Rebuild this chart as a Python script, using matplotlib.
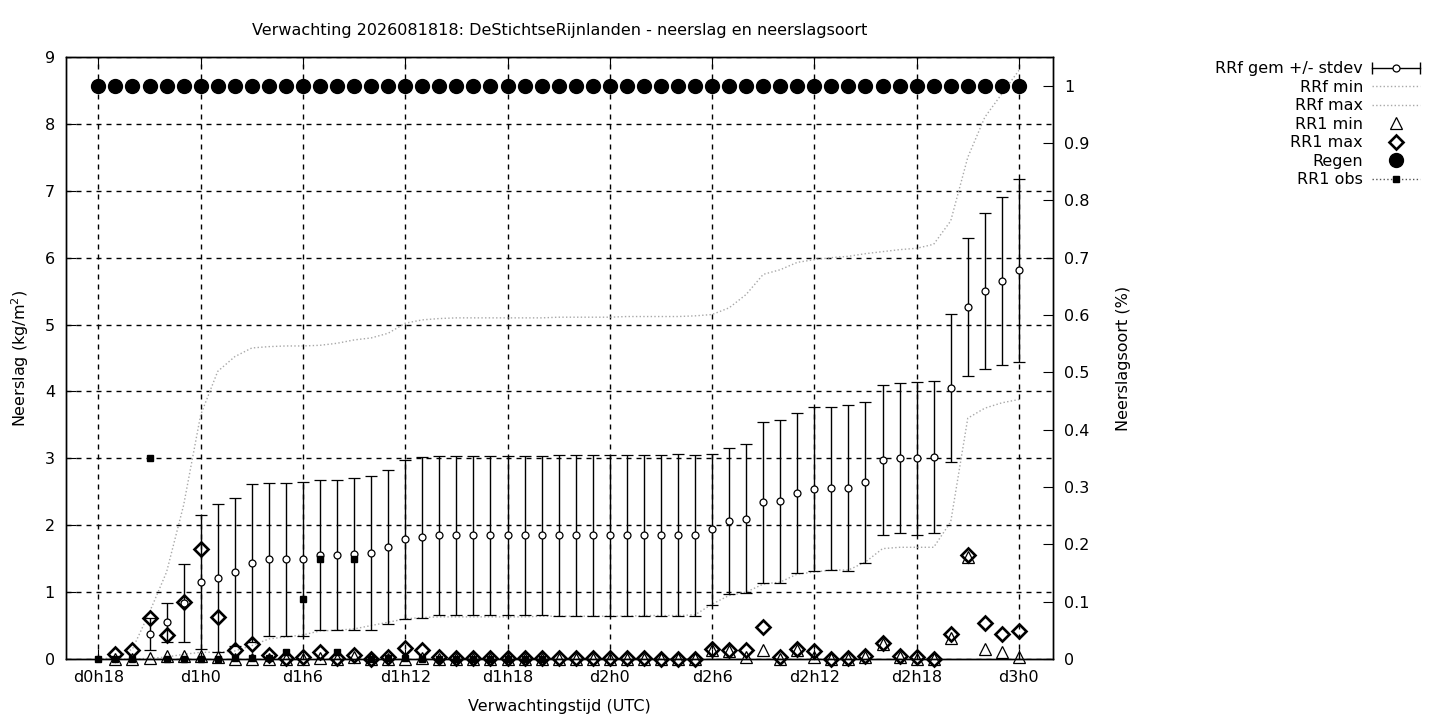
import numpy as np
import matplotlib
matplotlib.use("Agg")
import matplotlib.pyplot as plt
from matplotlib.lines import Line2D
from matplotlib.legend_handler import HandlerBase

nan = np.nan

# forecast hours, d0h18 .. d3h0
hours = np.arange(18, 73)

# RRf gem (mean) and stdev, first three hours have no mean
rrf_gem = [nan, nan, nan, 0.37, 0.55, 0.84, 1.15, 1.21, 1.30, 1.43, 1.49, 1.49, 1.49,
           1.55, 1.55, 1.57, 1.58, 1.67, 1.79, 1.82, 1.85, 1.85, 1.85, 1.85, 1.85,
           1.85, 1.85, 1.85, 1.85, 1.85, 1.85, 1.85, 1.85, 1.85, 1.85, 1.85, 1.94,
           2.06, 2.10, 2.34, 2.36, 2.48, 2.54, 2.55, 2.55, 2.64, 2.97, 3.00, 3.00,
           3.02, 4.05, 5.26, 5.50, 5.65, 5.81]
rrf_std = [nan, nan, nan, 0.24, 0.29, 0.58, 1.00, 1.10, 1.11, 1.18, 1.14, 1.14, 1.15,
           1.12, 1.12, 1.13, 1.15, 1.15, 1.19, 1.20, 1.19, 1.19, 1.19, 1.19, 1.19,
           1.19, 1.19, 1.20, 1.20, 1.20, 1.20, 1.20, 1.20, 1.20, 1.21, 1.20, 1.13,
           1.09, 1.12, 1.21, 1.22, 1.20, 1.23, 1.22, 1.24, 1.20, 1.12, 1.12, 1.14,
           1.13, 1.11, 1.03, 1.17, 1.25, 1.37]

rrf_min = [0, 0, 0, 0.01, 0.03, 0.07, 0.10, 0.10, 0.12, 0.20, 0.30, 0.33, 0.36,
           0.42, 0.43, 0.45, 0.50, 0.55, 0.60, 0.62, 0.63, 0.63, 0.63, 0.63, 0.63,
           0.63, 0.64, 0.64, 0.64, 0.64, 0.64, 0.64, 0.65, 0.65, 0.65, 0.66, 0.82,
           0.95, 1.00, 1.12, 1.15, 1.27, 1.30, 1.33, 1.33, 1.45, 1.65, 1.67, 1.67,
           1.67, 2.05, 3.60, 3.75, 3.83, 3.88]
rrf_max = [0, 0.02, 0.15, 0.70, 1.30, 2.30, 3.65, 4.30, 4.52, 4.65, 4.67, 4.68, 4.68,
           4.69, 4.72, 4.77, 4.80, 4.87, 5.02, 5.07, 5.09, 5.10, 5.10, 5.10, 5.10,
           5.10, 5.10, 5.11, 5.11, 5.11, 5.11, 5.12, 5.12, 5.12, 5.12, 5.13, 5.15,
           5.25, 5.45, 5.75, 5.82, 5.93, 5.97, 6.00, 6.02, 6.06, 6.09, 6.12, 6.14,
           6.20, 6.55, 7.50, 8.10, 8.45, 8.80]

rr1_min = [nan, 0, 0, 0.01, 0.05, 0.05, 0.04, 0.03, 0, 0, 0, 0, 0,
           0.02, 0, 0.03, 0, 0, 0, 0.02, 0, 0, 0, 0, 0,
           0, 0, 0, 0, 0, 0, 0, 0, 0, 0, 0, 0.13,
           0.12, 0.03, 0.13, 0, 0.14, 0.03, 0, 0, 0.03, 0.22, 0.03, 0,
           0, 0.32, 1.53, 0.15, 0.10, 0.03]
rr1_max = [nan, 0.07, 0.13, 0.61, 0.36, 0.85, 1.65, 0.63, 0.13, 0.22, 0.06, 0.01, 0.03,
           0.11, 0.01, 0.06, 0.0, 0.03, 0.16, 0.14, 0.03, 0.02, 0.02, 0.02, 0.02,
           0.02, 0.02, 0.01, 0.01, 0.01, 0.01, 0.01, 0.01, 0.0, 0.0, 0.0, 0.15,
           0.13, 0.13, 0.48, 0.03, 0.15, 0.12, 0.0, 0.02, 0.05, 0.24, 0.05, 0.03,
           0.0, 0.37, 1.55, 0.54, 0.38, 0.42]

# observations only up to d1h20
rr1_obs = [0, 0, 0, 3.0, 0, 0, 0, 0, 0.02, 0.02, 0.02, 0.10, 0.90,
           1.50, 0.10, 1.50, 0, 0.02, 0.02, 0, 0, 0, 0, 0, 0,
           0, 0] + [nan] * 28

# neerslagsoort: regen (fraction)
regen = [1.0] * 55

xtick_hours = np.arange(18, 73, 6)
xtick_labels = ["d%dh%d" % (h // 24, h % 24) for h in xtick_hours]

plt.rcParams["font.family"] = "DejaVu Sans"
plt.rcParams["font.size"] = 11.5

fig = plt.figure(figsize=(14.4, 7.2), dpi=100)
ax = fig.add_axes([66 / 1440, 61 / 720, 987 / 1440, 602 / 720])
ax2 = ax.twinx()

grey = "#a8a8a8"

ax.errorbar(hours, rrf_gem, yerr=rrf_std, fmt="o", ms=5, mfc="white", mec="k", mew=0.9,
            ecolor="k", elinewidth=1, capsize=4.3, capthick=1, zorder=3)
ax.plot(hours, rrf_min, ls=":", color=grey, lw=1, zorder=2)
ax.plot(hours, rrf_max, ls=":", color=grey, lw=1, zorder=2)
ax.plot(hours, rr1_min, "^", ms=9, mfc="none", mec="k", mew=0.9, clip_on=False, zorder=4)
ax.plot(hours, rr1_max, "D", ms=7, mfc="none", mec="k", mew=1.9, clip_on=False, zorder=5)
ax.plot(hours, rr1_obs, "s", ms=5, color="k", clip_on=False, zorder=6)
ax2.plot(hours, regen, "o", ms=10, color="k", clip_on=False)

ax.set_xlim(16.1, 74.0)
ax.set_ylim(0, 9)
ax.set_xticks(xtick_hours)
ax.set_xticklabels(xtick_labels)
ax.set_yticks(range(0, 10))
ax.grid(True, color="k", ls=(0, (3.6, 3.6)), lw=1)
ax.set_axisbelow(True)
ax.tick_params(direction="in", length=7, top=True, right=False, pad=8)

ax2.set_ylim(0, 1.05)
ax2.set_yticks(np.arange(0, 1.01, 0.1))
ax2.set_yticklabels(["0"] + ["%.1f" % v for v in np.arange(0.1, 0.95, 0.1)] + ["1"])
ax2.tick_params(direction="in", length=7, pad=8)

for a in (ax, ax2):
    for s in a.spines.values():
        s.set_linewidth(1)

ax.set_title("Verwachting 2026081818: DeStichtseRijnlanden - neerslag en neerslagsoort",
             fontsize=11.5, pad=16)
ax.set_xlabel("Verwachtingstijd (UTC)", labelpad=10)
ax.set_ylabel("Neerslag (kg/m$^2$)", labelpad=10)
ax2.set_ylabel("Neerslagsoort (%)", labelpad=19)


class ErrHandler(HandlerBase):
    def create_artists(self, legend, orig_handle, xdescent, ydescent, width, height,
                       fontsize, trans):
        y = height / 2 - ydescent
        x0, x1 = -xdescent, width - xdescent
        line = Line2D([x0, x1], [y, y], color="k", lw=1, transform=trans)
        caps = Line2D([x0, x1], [y, y], ls="none", marker="|", ms=8, mew=1, color="k",
                      transform=trans)
        dot = Line2D([(x0 + x1) / 2], [y], marker="o", ms=5, mfc="white", mec="k",
                     mew=0.9, transform=trans)
        return [line, caps, dot]


h_gem = Line2D([], [], color="k")
h_min = Line2D([], [], ls=":", color=grey, lw=1)
h_max = Line2D([], [], ls=":", color=grey, lw=1)
h_tri = Line2D([], [], ls="none", marker="^", ms=9, mfc="none", mec="k", mew=0.9)
h_dia = Line2D([], [], ls="none", marker="D", ms=7, mfc="none", mec="k", mew=1.9)
h_reg = Line2D([], [], ls="none", marker="o", ms=10, color="k")
h_obs = Line2D([], [], ls=":", color="#555555", lw=1, marker="s", ms=5, mfc="k", mec="k")

fig.legend([h_gem, h_min, h_max, h_tri, h_dia, h_reg, h_obs],
           ["RRf gem +/- stdev", "RRf min", "RRf max", "RR1 min", "RR1 max", "Regen",
            "RR1 obs"],
           handler_map={h_gem: ErrHandler()},
           loc="upper right", bbox_to_anchor=(1434 / 1440, 1 - 47 / 720),
           frameon=False, markerfirst=False, handlelength=3.0, labelspacing=0.22,
           handletextpad=0.55, fontsize=11.5)

fig.savefig("out.png", dpi=100)
